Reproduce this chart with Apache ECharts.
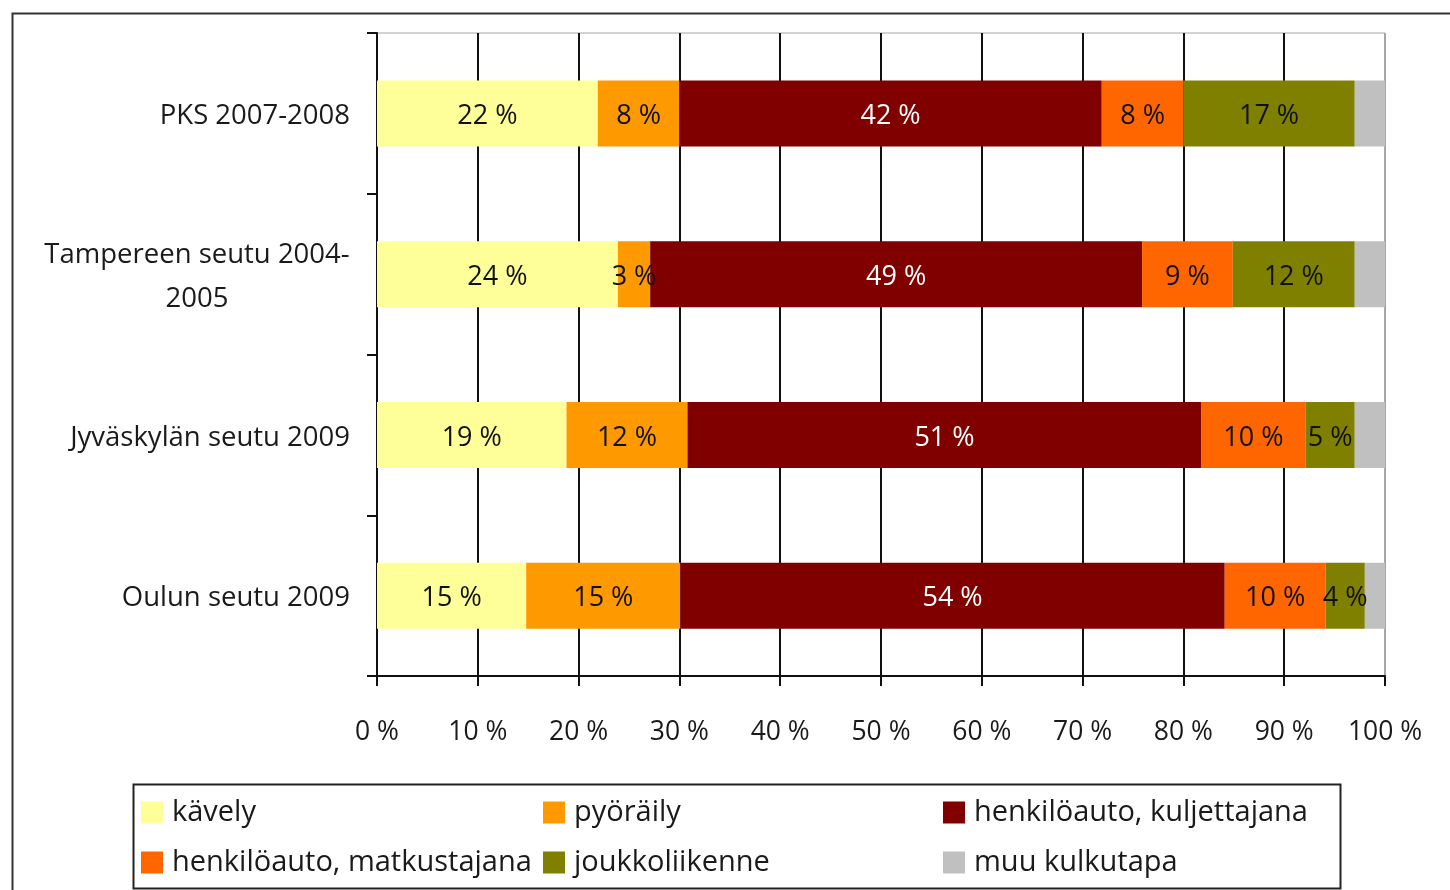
<!DOCTYPE html>
<html>
<head>
<meta charset="utf-8">
<script src="https://cdn.jsdelivr.net/npm/echarts@6/dist/echarts.min.js"></script>
<style>
html,body{margin:0;padding:0;background:#fff;}
#chart{width:1450px;height:890px;}
</style>
</head>
<body>
<div id="chart"></div>
<script>
const categories = ['PKS 2007-2008', 'Tampereen seutu 2004-2005', 'Jyväskylän seutu 2009', 'Oulun seutu 2009'];
const seriesNames = ['kävely', 'pyöräily', 'henkilöauto, kuljettajana', 'henkilöauto, matkustajana', 'joukkoliikenne', 'muu kulkutapa'];
const kavely = [21.9, 23.9, 18.8, 14.8];
const pyoraily = [8.1, 3.2, 12, 15.3];
const kuljettajana = [41.9, 48.8, 51, 54];
const matkustajana = [8.1, 9, 10.3, 10];
const joukkoliikenne = [17, 12.1, 4.9, 3.9];
const muu = [3, 3, 3, 2];
const xTicks = ['0 %','10 %','20 %','30 %','40 %','50 %','60 %','70 %','80 %','90 %','100 %'];

const colors = ['#FFFF99', '#FF9900', '#800000', '#FF6600', '#808000', '#C0C0C0'];
const values = [kavely, pyoraily, kuljettajana, matkustajana, joukkoliikenne, muu];
const labelColors = ['#111', '#111', '#fff', '#111', '#111', '#111'];
const FONT = 'Open Sans';

const series = seriesNames.map((name, i) => ({
  name: name,
  type: 'bar',
  stack: 'total',
  barWidth: 66,
  data: values[i],
  itemStyle: { color: colors[i] },
  label: {
    show: i !== 5,
    position: 'inside',
    offset: [0, 3],
    color: labelColors[i],
    fontFamily: FONT,
    fontSize: 27,
    formatter: p => Math.round(p.value) + ' %'
  },
  emphasis: { disabled: true }
}));

const legendText = { fontFamily: FONT, fontSize: 29, color: '#1a1a1a', padding: [0, 0, 0, 4] };
const mkLegend = (data, left) => ({
  data: data, orient: 'vertical', left: left, top: 798, itemWidth: 22, itemHeight: 22,
  itemGap: 21, icon: 'rect', padding: 0, textStyle: legendText, selectedMode: false
});

const chart = echarts.init(document.getElementById('chart'));
chart.setOption({
  animation: false,
  backgroundColor: '#fff',
  color: colors,
  grid: { left: 377, right: 65, top: 33, bottom: 214, show: true, borderColor: '#a6a6a6', borderWidth: 1, backgroundColor: 'transparent' },
  xAxis: {
    type: 'value', min: 0, max: 100, interval: 10,
    axisLine: { show: true, lineStyle: { color: '#111', width: 2 } },
    axisTick: { show: true, length: 10, lineStyle: { color: '#111', width: 2 } },
    splitLine: { show: true, lineStyle: { color: ['#111','#111','#111','#111','#111','#111','#111','#111','#111','#111','#a6a6a6'], width: 2 } },
    axisLabel: { margin: 43, fontFamily: FONT, fontSize: 26.5, color: '#1a1a1a', formatter: v => xTicks[Math.round(v / 10)] }
  },
  yAxis: {
    type: 'category', inverse: true, data: categories,
    axisLine: { show: true, lineStyle: { color: '#111', width: 2 } },
    axisTick: { show: true, length: 10, lineStyle: { color: '#111', width: 2 } },
    axisLabel: {
      margin: 27, fontFamily: FONT, fontSize: 27.5, color: '#1a1a1a', padding: [6, 0, 0, 0],
      formatter: v => v === 'Tampereen seutu 2004-2005' ? '{c|Tampereen seutu 2004-\n2005}' : v,
      rich: { c: { width: 306, align: 'center', lineHeight: 44, fontFamily: FONT, fontSize: 27.5, color: '#1a1a1a' } }
    }
  },
  legend: [
    mkLegend(['kävely', 'henkilöauto, matkustajana'], 141),
    mkLegend(['pyöräily', 'joukkoliikenne'], 543),
    mkLegend(['henkilöauto, kuljettajana', 'muu kulkutapa'], 943)
  ],
  graphic: [
    { type: 'rect', left: 10, top: 11, shape: { x: 0, y: 0, width: 1480, height: 920 }, style: { fill: 'none', stroke: '#333', lineWidth: 2 }, silent: true },
    { type: 'rect', left: 131, top: 782, shape: { x: 0, y: 0, width: 1207, height: 104 }, style: { fill: 'none', stroke: '#222', lineWidth: 2 }, silent: true, z: -1 }
  ],
  series: series
});
</script>
</body>
</html>
